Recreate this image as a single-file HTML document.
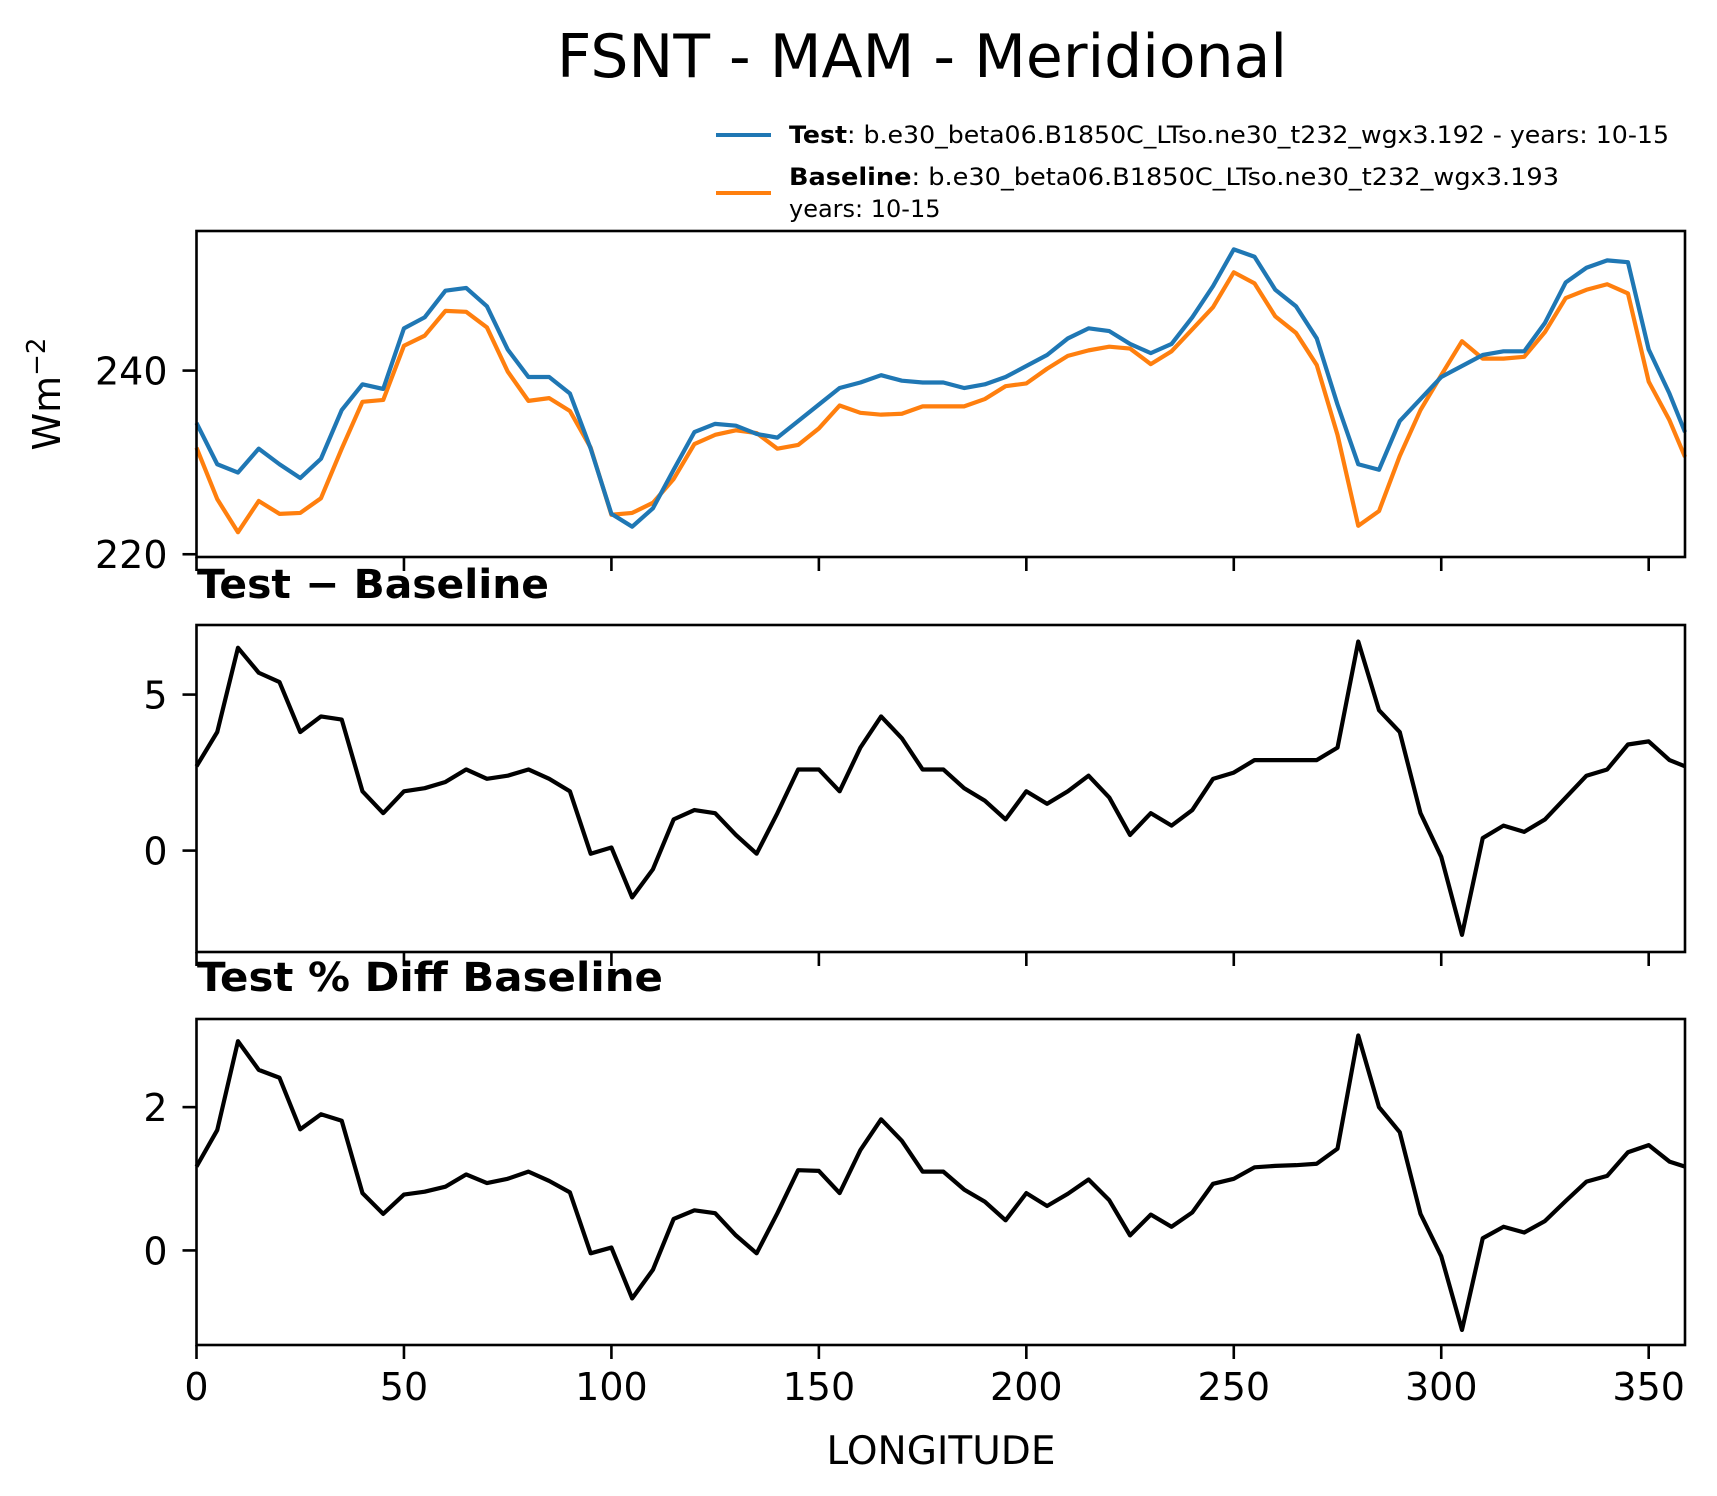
<!DOCTYPE html>
<html><head><meta charset="utf-8"><style>
body{margin:0;background:#fff}
svg{display:block;font-family:"DejaVu Sans","Liberation Sans",sans-serif}
</style></head><body>
<svg id="chart" width="1717" height="1496" viewBox="0 0 1717 1496">
<text x="922" y="77" font-size="60" text-anchor="middle">FSNT - MAM - Meridional</text>
<g>
<line x1="716" y1="135" x2="771" y2="135" stroke="#1f77b4" stroke-width="4"/>
<text x="789" y="143" font-size="24" textLength="880" lengthAdjust="spacingAndGlyphs"><tspan font-weight="bold">Test</tspan>: b.e30_beta06.B1850C_LTso.ne30_t232_wgx3.192 - years: 10-15</text>
<line x1="716" y1="193" x2="771" y2="193" stroke="#ff7f0e" stroke-width="4"/>
<text x="789" y="185" font-size="24" textLength="770" lengthAdjust="spacingAndGlyphs"><tspan font-weight="bold">Baseline</tspan>: b.e30_beta06.B1850C_LTso.ne30_t232_wgx3.193</text>
<text x="789" y="217" font-size="24">years: 10-15</text>
</g>
<text x="197" y="598" font-size="40" font-weight="bold" textLength="352" lengthAdjust="spacingAndGlyphs">Test − Baseline</text>
<text x="197" y="991" font-size="40" font-weight="bold" textLength="466" lengthAdjust="spacingAndGlyphs">Test % Diff Baseline</text>
<text transform="translate(60,394) rotate(-90)" font-size="38" text-anchor="middle">Wm<tspan dy="-15" font-size="26">−2</tspan></text>
<text x="941" y="1464" font-size="39" text-anchor="middle">LONGITUDE</text>
<g id="plots"></g>
</svg>
<script>
const lon=[0,5,10,15,20,25,30,35,40,45,50,55,60,65,70,75,80,85,90,95,100,105,110,115,120,125,130,135,140,145,150,155,160,165,170,175,180,185,190,195,200,205,210,215,220,225,230,235,240,245,250,255,260,265,270,275,280,285,290,295,300,305,310,315,320,325,330,335,340,345,350,355,358.75];
const testVals=[234.3,229.8,228.9,231.5,229.8,228.3,230.4,235.7,238.5,238.0,244.6,245.8,248.7,249.0,247.0,242.3,239.3,239.3,237.5,231.5,224.4,223.0,225.0,229.2,233.3,234.2,234.0,233.1,232.7,234.5,236.3,238.1,238.7,239.5,238.9,238.7,238.7,238.1,238.5,239.3,240.5,241.7,243.5,244.6,244.3,242.9,241.9,242.9,245.8,249.2,253.2,252.4,248.8,247.0,243.5,236.3,229.8,229.2,234.5,236.9,239.3,240.5,241.7,242.1,242.1,245.2,249.6,251.2,252.0,251.8,242.3,237.5,233.3];
const baseVals=[231.6,226.0,222.4,225.8,224.4,224.5,226.1,231.5,236.6,236.8,242.7,243.8,246.5,246.4,244.7,239.9,236.7,237.0,235.6,231.6,224.3,224.5,225.6,228.2,232.0,233.0,233.5,233.2,231.5,231.9,233.7,236.2,235.4,235.2,235.3,236.1,236.1,236.1,236.9,238.3,238.6,240.2,241.6,242.2,242.6,242.4,240.7,242.1,244.5,246.9,250.7,249.5,245.9,244.1,240.6,233.0,223.1,224.7,230.7,235.7,239.5,243.2,241.3,241.3,241.5,244.2,247.9,248.8,249.4,248.4,238.8,234.6,230.6];
const diffVals=[2.7,3.8,6.5,5.7,5.4,3.8,4.3,4.2,1.9,1.2,1.9,2.0,2.2,2.6,2.3,2.4,2.6,2.3,1.9,-0.1,0.1,-1.5,-0.6,1.0,1.3,1.2,0.5,-0.1,1.2,2.6,2.6,1.9,3.3,4.3,3.6,2.6,2.6,2.0,1.6,1.0,1.9,1.5,1.9,2.4,1.7,0.5,1.2,0.8,1.3,2.3,2.5,2.9,2.9,2.9,2.9,3.3,6.7,4.5,3.8,1.2,-0.2,-2.7,0.4,0.8,0.6,1.0,1.7,2.4,2.6,3.4,3.5,2.9,2.7];
const pctVals=[1.17,1.68,2.92,2.52,2.41,1.69,1.90,1.81,0.80,0.51,0.78,0.82,0.89,1.06,0.94,1.00,1.10,0.97,0.81,-0.04,0.04,-0.67,-0.27,0.44,0.56,0.52,0.21,-0.04,0.52,1.12,1.11,0.80,1.40,1.83,1.53,1.10,1.10,0.85,0.68,0.42,0.80,0.62,0.79,0.99,0.70,0.21,0.50,0.33,0.53,0.93,1.00,1.16,1.18,1.19,1.21,1.42,3.00,2.00,1.65,0.51,-0.08,-1.11,0.17,0.33,0.25,0.41,0.69,0.96,1.04,1.37,1.47,1.24,1.17];
const xTicks=[0,50,100,150,200,250,300,350];
const topTicks=[220,240];
const diffTicks=[0,5];
const pctTicks=[0,2];

const NS='http://www.w3.org/2000/svg';
const root=document.getElementById('plots');
const X0=196.5,X1=1685,XMAX=358.75;
function xs(v){return X0+(v/XMAX)*(X1-X0);}
function mk(tag,attrs,parent){const e=document.createElementNS(NS,tag);for(const k in attrs)e.setAttribute(k,attrs[k]);(parent||root).appendChild(e);return e;}
function panel(name,top,bot,ymin,ymax,ticks,series,showX){
  const g=mk('g',{});
  
  
  const ys=v=>bot-(v-ymin)/(ymax-ymin)*(bot-top);
  series.forEach(s=>{
    const d=lon.map((l,i)=>(i?'L':'M')+xs(l).toFixed(2)+','+ys(s.vals[i]).toFixed(2)).join(' ');
    const p=mk('path',{d:d,fill:'none',stroke:s.color,'stroke-width':4.2,'stroke-linejoin':'round'},g);
    
    
  });
  const fr=mk('rect',{x:X0,y:top,width:X1-X0,height:bot-top,fill:'none',stroke:'#000','stroke-width':2.6},g);
  
  
  ticks.forEach(t=>{
    const y=ys(t);
    mk('line',{x1:X0-14,x2:X0,y1:y,y2:y,stroke:'#000','stroke-width':2.6},g);
    const tx=mk('text',{x:X0-29,y:y+14,'font-size':38,'text-anchor':'end'},g);
    tx.textContent=t;
    
    
  });
  xTicks.forEach(t=>{
    const x=xs(t);
    mk('line',{x1:x,x2:x,y1:bot,y2:bot+14,stroke:'#000','stroke-width':2.6},g);
    if(showX){
      const tx=mk('text',{x:x,y:bot+55,'font-size':38,'text-anchor':'middle'},g);
      tx.textContent=t;
      
      
    }
  });
}
panel('fsnt',231,557,219.7,255.2,topTicks,[{vals:baseVals,color:'#ff7f0e',name:'baseline-line'},{vals:testVals,color:'#1f77b4',name:'test-line'}],false);
panel('diff',625,952,-3.25,7.23,diffTicks,[{vals:diffVals,color:'#000',name:'diff-line'}],false);
panel('pct',1019,1345,-1.32,3.23,pctTicks,[{vals:pctVals,color:'#000',name:'pct-diff-line'}],true);
</script>
</body></html>
